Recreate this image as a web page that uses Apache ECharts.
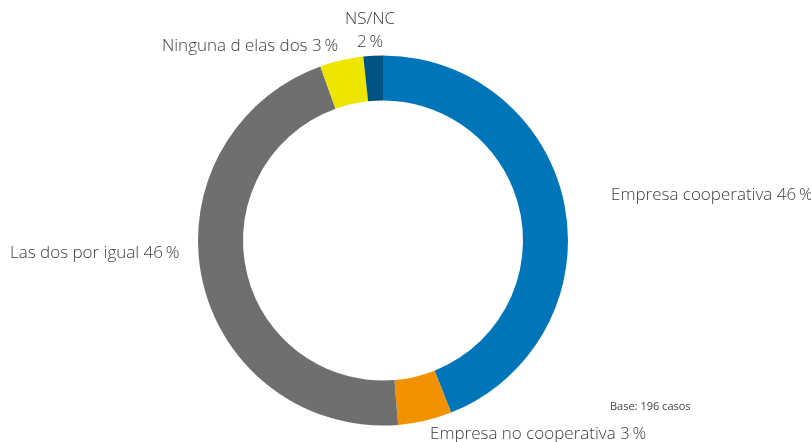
<!DOCTYPE html>
<html>
<head>
<meta charset="utf-8">
<script src="https://cdn.jsdelivr.net/npm/echarts@6/dist/echarts.min.js"></script>
<style>
  html, body { margin: 0; padding: 0; background: #fff; }
  #chart { width: 811px; height: 442px; }
</style>
</head>
<body>
<div id="chart"></div>
<script>
  // categorias y valores (el ancho de los sectores tal como se ve)
  var categories = ['Empresa cooperativa', 'Empresa no cooperativa', 'Las dos por igual', 'Ninguna d elas dos', 'NS/NC'];
  var sliceValues = [44.0, 4.7, 45.8, 3.8, 1.7];
  // porcentajes impresos en las etiquetas
  var labelPercents = [46, 3, 46, 3, 2];
  var colors = ['#0075ba', '#f39200', '#706f6f', '#efe600', '#005383'];

  // donde va cada etiqueta
  var labelPos = [
    { x: 611, y: 195, align: 'left', verticalAlign: 'middle' },
    { x: 430, y: 434, align: 'left', verticalAlign: 'middle' },
    { x: 10, y: 253, align: 'left', verticalAlign: 'middle' },
    { x: 162, y: 46, align: 'left', verticalAlign: 'middle' },
    { x: 370, y: 8, align: 'center', verticalAlign: 'top' }
  ];

  var chart = echarts.init(document.getElementById('chart'), null, { renderer: 'canvas' });

  var option = {
    animation: false,
    textStyle: { fontFamily: 'Open Sans' },
    graphic: [{
      type: 'text',
      left: 610,
      top: 401,
      style: { text: 'Base: 196 casos', fontSize: 11, fill: '#444', fontFamily: 'Open Sans' }
    }],
    series: [{
      type: 'pie',
      center: [383, 240.5],
      radius: [140, 185],
      startAngle: 90,
      clockwise: true,
      avoidLabelOverlap: false,
      label: {
        show: true,
        color: '#3c3c3c',
        fontSize: 17,
        fontWeight: 300,
        fontFamily: 'Open Sans',
        lineHeight: 23,
        formatter: function (p) {
          var pct = labelPercents[p.dataIndex] + '\u2009%';
          if (p.dataIndex === 4) return p.name + '\n' + pct;
          return p.name + ' ' + pct;
        }
      },
      labelLine: { show: false },
      labelLayout: function (params) {
        var pos = labelPos[params.dataIndex];
        return { x: pos.x, y: pos.y, align: pos.align, verticalAlign: pos.verticalAlign };
      },
      emphasis: { disabled: true },
      data: categories.map(function (c, i) {
        return { name: c, value: sliceValues[i], itemStyle: { color: colors[i] } };
      })
    }]
  };

  chart.setOption(option);
</script>
</body>
</html>
